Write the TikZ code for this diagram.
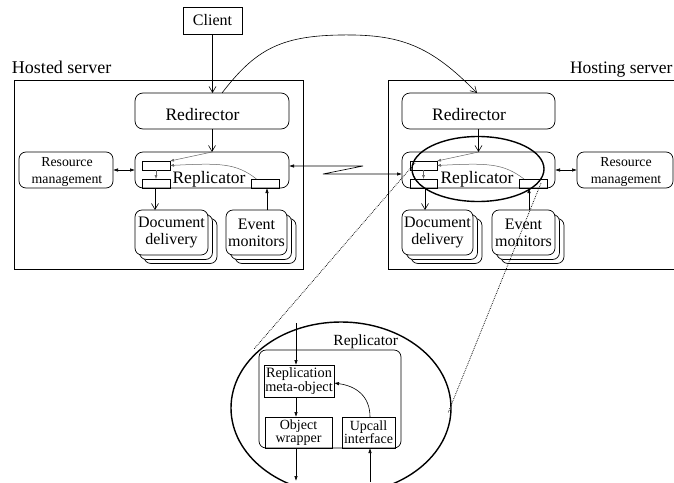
\documentclass[tikz,border=0pt]{standalone}
\usepackage{fontspec}
\setmainfont{Liberation Serif}
\usetikzlibrary{arrows.meta,shapes.geometric}
\newcommand\fsz[2]{\fontsize{#1pt}{#2pt}\selectfont}
\definecolor{inner}{gray}{0.4}
\begin{document}
\begin{tikzpicture}[x=1pt,y=-1pt,
  box/.style={draw,line width=0.7pt,inner sep=0pt,outer sep=0pt,align=center},
  rbox/.style={box,rounded corners=7pt},
  stackbox/.style={rbox,fill=white,minimum height=45pt},
  sbox/.style={draw,line width=0.5pt,inner sep=0pt,outer sep=0pt,minimum width=28pt,minimum height=9pt},
  lbl/.style={inner sep=0pt,outer sep=0pt,align=center},
  openv/.style={line width=0.6pt,-{Straight Barb[length=6pt,width=7pt]}},
  solidtip/.style={line width=0.6pt,-{Latex[length=5pt,width=3.5pt]}},
  dbltip/.style={line width=0.6pt,{Latex[length=5pt,width=3.5pt]}-{Latex[length=5pt,width=3.5pt]}},
  gline/.style={draw=inner,line width=0.5pt,-{Latex[length=4pt,width=3pt]}},
  dotline/.style={line width=0.8pt,dash pattern=on 0.7pt off 1.1pt},
  bigell/.style={draw,ellipse,line width=1.4pt,inner sep=0pt}
]
\useasboundingbox (0,0) rectangle (674,482);

% ---------- Hosted server ----------
\node[box,minimum width=289pt,minimum height=189pt] (hosted) at (158.5,174.5) {};
\node[lbl,anchor=base west,font=\fsz{18}{20}] (hostedlbl) at (12,73) {Hosted server};
\node[box,minimum width=59pt,minimum height=27pt,font=\fsz{16}{18}] (client) at (212.5,20.5) {Client};

\node[rbox,rounded corners=8pt,minimum width=154pt,minimum height=36pt] (redir1) at (212,111) {};
\node[lbl,anchor=base,font=\fsz{17.5}{19}] (redir1t) at (202.5,120) {Redirector};
\node[rbox,rounded corners=8pt,minimum width=154pt,minimum height=36pt] (rep1) at (212,170) {};
\node[sbox] (a1) at (156,165.5) {};
\node[sbox] (b1) at (156,183.5) {};
\node[sbox] (c1) at (265.5,183.5) {};
\node[lbl,anchor=base,font=\fsz{17.5}{19}] (rep1t) at (209,183) {Replicator};
\node[rbox,minimum width=94pt,minimum height=36pt] (res1) at (66,170) {};
\node[lbl,font=\fsz{13.8}{16.5}] (res1t) at (67,172) {Resource\\management};

\node[stackbox,minimum width=73pt] (doc1c) at (180.5,241) {};
\node[stackbox,minimum width=73pt] (doc1b) at (176,237) {};
\node[stackbox,minimum width=73pt,font=\fsz{16}{17}] (doc1) at (171.5,232.5) {Document\\delivery};
\node[stackbox,minimum width=61pt] (ev1c) at (265.5,241) {};
\node[stackbox,minimum width=61pt] (ev1b) at (261,237) {};
\node[stackbox,minimum width=61pt,font=\fsz{16}{17}] (ev1) at (256.5,232.5) {Event\\monitors};

\draw[openv] (client.south) -- (client.south |- redir1.north);
\draw[openv] (redir1.south) -- (rep1.north);
\draw[gline] (rep1.north) -- (a1.north east);
\draw[gline] ([xshift=-9pt]c1.north) .. controls (236,163) and (220,163) .. (a1.east);
\draw[gline] (a1.south) -- (b1.north);
\draw[openv] ([xshift=-1pt]b1.south) -- ([xshift=-1pt]b1.south |- doc1.north);
\draw[solidtip] ([xshift=1.5pt]c1.south |- ev1.north) -- ([xshift=1.5pt]c1.south);
\draw[dbltip] (res1.east) -- (rep1.west);

% ---------- Hosting server ----------
\node[box,minimum width=302pt,minimum height=189pt] (hosting) at (539,174.5) {};
\node[lbl,anchor=base west,font=\fsz{17.5}{20}] (hostinglbl) at (570,73) {Hosting server};

\node[rbox,rounded corners=8pt,minimum width=153pt,minimum height=36pt] (redir2) at (478.5,111) {};
\node[lbl,anchor=base,font=\fsz{17.5}{19}] (redir2t) at (469,120) {Redirector};
\node[rbox,rounded corners=8pt,minimum width=153pt,minimum height=36pt] (rep2) at (478.5,170) {};
\node[sbox,minimum width=27pt] (a2) at (423.5,165.5) {};
\node[sbox,minimum width=27pt] (b2) at (423.5,183.5) {};
\node[sbox] (c2) at (533,183.5) {};
\node[lbl,anchor=base,font=\fsz{17.5}{19}] (rep2t) at (477,183) {Replicator};
\node[rbox,minimum width=96pt,minimum height=36pt] (res2) at (625,170) {};
\node[lbl,font=\fsz{13.8}{16.5}] (res2t) at (626,172) {Resource\\management};

\node[stackbox,minimum width=71pt] (doc2c) at (446.5,241) {};
\node[stackbox,minimum width=71pt] (doc2b) at (442,237) {};
\node[stackbox,minimum width=71pt,font=\fsz{16}{17}] (doc2) at (437.5,232.5) {Document\\delivery};
\node[stackbox,minimum width=63pt] (ev2c) at (532.5,241) {};
\node[stackbox,minimum width=63pt] (ev2b) at (528,237) {};
\node[stackbox,minimum width=63pt,font=\fsz{16}{17}] (ev2) at (523.5,232.5) {Event\\monitors};

\draw[openv] (redir2.south) -- (rep2.north);
\draw[gline] (rep2.north) -- (a2.north east);
\draw[gline] ([xshift=-9pt]c2.north) .. controls (503,163) and (487,163) .. (a2.east);
\draw[gline] (a2.south) -- (b2.north);
\draw[openv] ([xshift=1.5pt]b2.south) -- ([xshift=1.5pt]b2.south |- doc2.north);
\draw[solidtip] ([xshift=-4pt]c2.south |- ev2.north) -- ([xshift=-4pt]c2.south);
\draw[dbltip] (rep2.east) -- (res2.west);

% ---------- links between servers ----------
\coordinate (arcmid) at (340,35);
\draw[openv] ([xshift=10pt]redir1.north) .. controls (255,50) and (280,36) .. (arcmid)
  .. controls (400,34) and (430,45) .. ([xshift=-1.5pt]redir2.north);
\coordinate (zz1) at (363,166);
\coordinate (zz2) at (323,174);
\draw[dbltip] ([yshift=4pt]rep1.east) -- (zz1) -- (zz2) -- ([yshift=-4pt]rep2.west);

% ---------- magnifier ----------
\node[bigell,minimum width=132pt,minimum height=65pt] (lens) at (478,169) {};
\node[bigell,minimum width=220pt,minimum height=172pt] (big) at (341,408) {};
\coordinate (d1a) at (415,163);
\coordinate (d1b) at (254,349);
\coordinate (d2a) at (541,183);
\coordinate (d2b) at (448,413);
\draw[dotline] (d1a) -- (d1b);
\draw[dotline] (d2a) -- (d2b);

% ---------- zoomed replicator ----------
\node[rbox,minimum width=142pt,minimum height=98pt] (repin) at (330,399) {};
\node[lbl,anchor=base east,font=\fsz{15.5}{17}] (repinlbl) at (398,345) {Replicator};
\node[box,minimum width=70pt,minimum height=32pt,font=\fsz{14.3}{13.5}] (meta) at (299,381) {Replication\\meta-object};
\node[box,minimum width=67pt,minimum height=31pt,font=\fsz{14}{13}] (wrap) at (298.5,432.5) {Object\\wrapper};
\node[box,minimum width=53pt,minimum height=31pt,font=\fsz{14}{13}] (upc) at (368.5,432.5) {Upcall\\interface};

\coordinate (bin) at (296,323);
\coordinate (bout) at (296,481);
\coordinate (uin) at (370,482);
\draw[solidtip] (bin) -- (bin |- meta.north);
\draw[solidtip] (bin |- meta.south) -- (bin |- wrap.north);
\draw[solidtip] (bin |- wrap.south) -- (bout);
\draw[solidtip] (uin) -- (uin |- upc.south);
\draw[solidtip] (uin |- upc.north) .. controls (370,396) and (356,386) .. ([yshift=-2pt]meta.east);
\end{tikzpicture}
\end{document}
